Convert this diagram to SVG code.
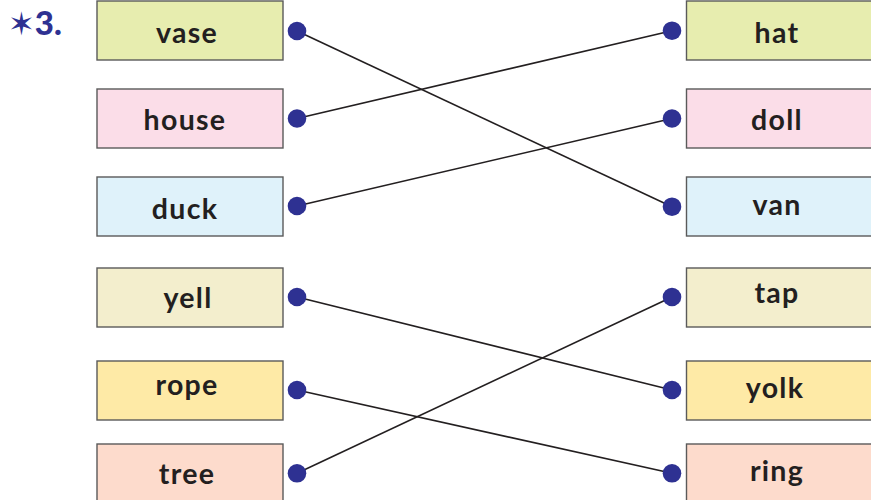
<svg xmlns="http://www.w3.org/2000/svg" width="871" height="500" viewBox="0 0 871 500">
<style>
.box{stroke:#5a5a5a;stroke-width:1.4}
.lbl{font-family:Lato,"Open Sans","DejaVu Sans",sans-serif;font-weight:bold;font-size:28.5px;fill:#231f20;text-anchor:middle;letter-spacing:1.3px}
.dot{fill:#2e3192}
.c1{fill:#e7edaf}.c2{fill:#fbdde8}.c3{fill:#dff2fa}.c4{fill:#f3eecd}.c5{fill:#feeaa6}.c6{fill:#fddbcc}
</style>
<rect width="871" height="500" fill="#ffffff"/>
<text x="8" y="35" style="font-family:Lato,'DejaVu Sans',sans-serif;font-weight:900;font-size:33px;fill:#2e3192"><tspan style="font-family:'DejaVu Sans',sans-serif;font-size:32px;font-weight:normal">✶</tspan>3.</text>
<g id="connectors" stroke="#231f20" stroke-width="1.6" fill="none">
<line x1="297" y1="31" x2="672" y2="206.7"/>
<line x1="297" y1="118.5" x2="672" y2="30.7"/>
<line x1="297" y1="206" x2="672" y2="118.5"/>
<line x1="297" y1="297" x2="672" y2="390"/>
<line x1="297" y1="390" x2="672" y2="473.3"/>
<line x1="297" y1="473.3" x2="672" y2="297"/>
</g>
<g id="vase"><rect class="box c1" x="97" y="1" width="186" height="59"/><text class="lbl" x="187" y="43">vase</text><circle class="dot" cx="297" cy="31" r="9.3"/></g>
<g id="house"><rect class="box c2" x="97" y="89" width="186" height="59"/><text class="lbl" x="185" y="130">house</text><circle class="dot" cx="297" cy="118.5" r="9.3"/></g>
<g id="duck"><rect class="box c3" x="97" y="177" width="186" height="59"/><text class="lbl" x="185" y="219">duck</text><circle class="dot" cx="297" cy="206" r="9.3"/></g>
<g id="yell"><rect class="box c4" x="97" y="268" width="186" height="59"/><text class="lbl" x="188" y="308">yell</text><circle class="dot" cx="297" cy="297" r="9.3"/></g>
<g id="rope"><rect class="box c5" x="97" y="361" width="186" height="59"/><text class="lbl" x="187" y="395">rope</text><circle class="dot" cx="297" cy="390" r="9.3"/></g>
<g id="tree"><rect class="box c6" x="97" y="444" width="186" height="59"/><text class="lbl" x="187" y="484">tree</text><circle class="dot" cx="297" cy="473.3" r="9.3"/></g>
<g id="hat"><rect class="box c1" x="686.5" y="1" width="190" height="59"/><text class="lbl" x="777" y="43">hat</text><circle class="dot" cx="672" cy="30.7" r="9.3"/></g>
<g id="doll"><rect class="box c2" x="686.5" y="89" width="190" height="59"/><text class="lbl" x="777" y="130">doll</text><circle class="dot" cx="672" cy="118.5" r="9.3"/></g>
<g id="van"><rect class="box c3" x="686.5" y="177" width="190" height="59"/><text class="lbl" x="777" y="215">van</text><circle class="dot" cx="672" cy="206.7" r="9.3"/></g>
<g id="tap"><rect class="box c4" x="686.5" y="268" width="190" height="59"/><text class="lbl" x="777" y="303">tap</text><circle class="dot" cx="672" cy="297" r="9.3"/></g>
<g id="yolk"><rect class="box c5" x="686.5" y="361" width="190" height="59"/><text class="lbl" x="775" y="398">yolk</text><circle class="dot" cx="672" cy="390" r="9.3"/></g>
<g id="ring"><rect class="box c6" x="686.5" y="444" width="190" height="59"/><text class="lbl" x="777" y="481">ring</text><circle class="dot" cx="672" cy="473.3" r="9.3"/></g>
</svg>
